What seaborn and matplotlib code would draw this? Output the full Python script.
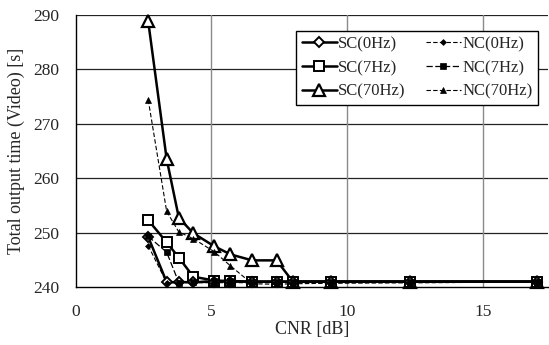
import numpy as np
import pandas as pd
import matplotlib
matplotlib.use("Agg")
import matplotlib.pyplot as plt
import seaborn as sns

# CNR values [dB] at which each scheme was measured
cnr = [2.67, 3.35, 3.8, 4.33, 5.1, 5.7, 6.5, 7.4, 8.0, 9.4, 12.3, 17.0]

# Total output time of the video stream [s]
sc_0hz = [249.2, 240.9, 240.9, 240.9, 241.0, 241.0, 241.0, 241.0, 241.0, 241.0, 241.0, 241.0]
nc_0hz = [247.6, 240.8, 240.8, 240.8, 240.8, 240.8, 240.8, 240.8, 240.8, 240.8, 240.8, 240.9]
sc_7hz = [252.3, 248.2, 245.4, 241.9, 241.2, 241.1, 241.0, 241.0, 241.0, 241.0, 241.0, 241.0]
nc_7hz = [249.3, 246.4, 240.8, 240.9, 241.2, 241.1, 240.9, 240.9, 240.9, 240.9, 240.9, 241.0]
sc_70hz = [288.8, 263.5, 252.7, 249.9, 247.5, 246.0, 244.9, 244.9, 241.0, 241.0, 241.0, 241.0]
nc_70hz = [274.4, 253.9, 250.1, 248.9, 246.5, 243.9, 240.6, 240.5, 240.6, 240.7, 240.8, 240.9]

series_names = ["SC(0Hz)", "NC(0Hz)", "SC(7Hz)", "NC(7Hz)", "SC(70Hz)", "NC(70Hz)"]
series_values = [sc_0hz, nc_0hz, sc_7hz, nc_7hz, sc_70hz, nc_70hz]

df = pd.concat(
    [pd.DataFrame({"CNR": cnr, "time": vals, "series": name})
     for name, vals in zip(series_names, series_values)],
    ignore_index=True,
)

sns.set_style("white")
plt.rcParams["font.family"] = ["Liberation Serif", "DejaVu Serif"]

styles = {
    "SC(0Hz)":  dict(marker="D", markersize=5, markerfacecolor="white", linewidth=1.8, linestyle="-", mew=1.4),
    "SC(7Hz)":  dict(marker="s", markersize=7.5, markerfacecolor="white", linewidth=1.8, linestyle="-", mew=1.4),
    "SC(70Hz)": dict(marker="^", markersize=9, markerfacecolor="white", linewidth=1.8, linestyle="-", mew=1.6),
    "NC(0Hz)":  dict(marker="D", markersize=3, markerfacecolor="black", linewidth=0.8, linestyle=(0, (4, 2)), mew=0.5),
    "NC(7Hz)":  dict(marker="s", markersize=4.5, markerfacecolor="black", linewidth=0.9, linestyle=(0, (5, 2)), mew=0.5),
    "NC(70Hz)": dict(marker="^", markersize=4.5, markerfacecolor="black", linewidth=0.8, linestyle=(0, (4, 2)), mew=0.5),
}

fig = plt.figure(figsize=(5.49, 3.45), dpi=100)
ax = fig.add_axes([0.138, 0.168, 0.860, 0.789])

# SC curves first, NC curves on top
for name in ["SC(70Hz)", "SC(7Hz)", "SC(0Hz)", "NC(70Hz)", "NC(7Hz)", "NC(0Hz)"]:
    st = styles[name]
    sub = df[df["series"] == name]
    sns.lineplot(data=sub, x="CNR", y="time", ax=ax, color="black",
                 marker=st["marker"], markersize=st["markersize"],
                 markerfacecolor=st["markerfacecolor"], markeredgecolor="black",
                 markeredgewidth=st["mew"], linewidth=st["linewidth"],
                 linestyle=st["linestyle"], label=name, zorder=3, clip_on=False)

ax.set_xlim(0, 17.4)
ax.set_ylim(240, 290)
ax.set_xticks([0, 5, 10, 15])
ax.set_yticks([240, 250, 260, 270, 280, 290])
ax.tick_params(axis="x", labelsize=12.5, length=0, pad=12)
ax.tick_params(axis="y", labelsize=12.5, length=0, pad=12)

ax.grid(False)
for yv in [250, 260, 270, 280, 290]:
    ax.axhline(yv, color="#222222", linewidth=0.9, zorder=1)
for xv in [5, 10, 15]:
    ax.axvline(xv, color="#8a8a8a", linewidth=1.0, zorder=1)

for side in ["top", "right"]:
    ax.spines[side].set_visible(False)
for side in ["left", "bottom"]:
    ax.spines[side].set_color("black")
    ax.spines[side].set_linewidth(1.0)

ax.set_xlabel("CNR [dB]", fontsize=13, labelpad=1)
ax.set_ylabel("Total output time (Video) [s]", fontsize=13, labelpad=6)

handles, labels = ax.get_legend_handles_labels()
order = ["SC(0Hz)", "SC(7Hz)", "SC(70Hz)", "NC(0Hz)", "NC(7Hz)", "NC(70Hz)"]
hmap = dict(zip(labels, handles))
leg = ax.legend([hmap[k] for k in order], order, ncol=2, loc="upper right",
                bbox_to_anchor=(0.979, 0.941), fontsize=12, frameon=True,
                fancybox=False, edgecolor="black", handlelength=2.1,
                handletextpad=0.1, columnspacing=1.2, labelspacing=0.46,
                borderpad=0.32, borderaxespad=0)
leg.get_frame().set_linewidth(1.0)
leg.get_frame().set_alpha(1)

fig.savefig("out.png", dpi=100)
